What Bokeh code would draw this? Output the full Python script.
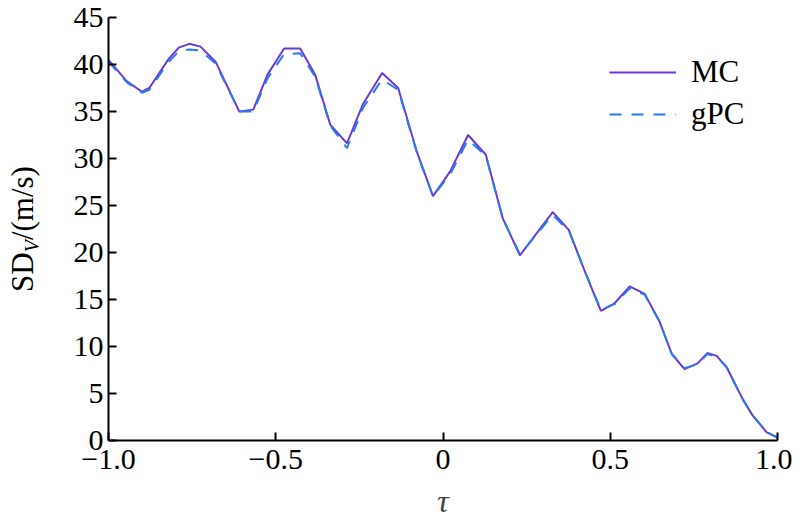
from bokeh.plotting import figure
from bokeh.models import Legend, LegendItem, FixedTicker, Range1d, Div
from bokeh.layouts import row
from bokeh.embed import file_html
from bokeh.resources import INLINE

tau = [-1.000, -0.945, -0.900, -0.878, -0.820, -0.790, -0.758, -0.725, -0.680,
       -0.609, -0.567, -0.525, -0.475, -0.427, -0.382, -0.337, -0.287, -0.239,
       -0.182, -0.134, -0.078, -0.030, 0.021, 0.075, 0.128, 0.179, 0.230,
       0.328, 0.376, 0.425, 0.472, 0.513, 0.558, 0.603, 0.648, 0.684, 0.722,
       0.761, 0.790, 0.818, 0.848, 0.896, 0.925, 0.967, 1.000]
mc = [40.5, 38.2, 37.1, 37.5, 40.6, 41.8, 42.2, 41.9, 40.3,
      35.0, 35.2, 38.9, 41.7, 41.7, 38.9, 33.6, 31.6, 35.8,
      39.1, 37.5, 30.7, 26.0, 28.6, 32.5, 30.4, 23.6, 19.7,
      24.3, 22.4, 17.9, 13.8, 14.6, 16.4, 15.6, 12.6, 9.2, 7.6,
      8.2, 9.3, 9.0, 7.8, 4.4, 2.7, 0.9, 0.3]
gpc = [40.3, 38.1, 37.0, 37.3, 40.3, 41.4, 41.6, 41.5, 40.1,
       35.0, 35.0, 38.5, 41.1, 41.2, 38.7, 33.5, 31.1, 35.4,
       38.4, 37.3, 30.6, 26.0, 28.3, 32.0, 30.3, 23.6, 19.8,
       24.0, 22.3, 17.9, 13.9, 14.5, 16.2, 15.5, 12.6, 9.2, 7.7,
       8.1, 9.2, 8.9, 7.8, 4.4, 2.7, 0.9, 0.3]

x_ticks = [-1.0, -0.5, 0.0, 0.5, 1.0]
x_tick_labels = ["\u22121.0", "\u22120.5", "0", "0.5", "1.0"]
y_ticks = [0, 5, 10, 15, 20, 25, 30, 35, 40, 45]
y_title_main, y_title_sub, y_title_unit = "SD", "V", "/(m/s)"

FONT = "Liberation Serif"
MC_COLOR = "#6a3ad8"
GPC_COLOR = "#2a7af2"
H = 521
LABEL_W = 60

# main plot
p = figure(width=792 - LABEL_W, height=H, output_backend="svg", toolbar_location=None,
           x_range=Range1d(-1, 1), y_range=Range1d(0, 45),
           min_border_left=108 - LABEL_W, min_border_right=15, min_border_top=17,
           min_border_bottom=80)
p.outline_line_color = None
p.grid.visible = False
p.background_fill_color = "white"

r_mc = p.line(tau, mc, line_color=MC_COLOR, line_width=2)
r_gpc = p.line(tau, gpc, line_color=GPC_COLOR, line_width=2, line_dash="12 10")

for ax in (p.xaxis[0], p.yaxis[0]):
    ax.major_tick_in = 8
    ax.major_tick_out = 0
    ax.minor_tick_in = 0
    ax.minor_tick_out = 0
    ax.axis_line_width = 2
    ax.axis_line_color = "black"
    ax.major_tick_line_width = 2
    ax.major_tick_line_color = "black"
    ax.major_label_text_font = FONT
    ax.major_label_text_font_size = "30px"
    ax.major_label_text_color = "black"

p.xaxis.ticker = FixedTicker(ticks=x_ticks)
p.xaxis.major_label_overrides = {t: l for t, l in zip(x_ticks, x_tick_labels)}
p.xaxis.major_label_standoff = 9
p.xaxis.axis_label = "\u03c4"
p.xaxis.axis_label_text_font = FONT
p.xaxis.axis_label_text_font_style = "italic"
p.xaxis.axis_label_text_font_size = "32px"
p.xaxis.axis_label_standoff = 11

p.yaxis.ticker = FixedTicker(ticks=y_ticks)
p.yaxis.major_label_standoff = 5

legend = Legend(items=[LegendItem(label="MC", renderers=[r_mc]),
                       LegendItem(label="gPC", renderers=[r_gpc])],
                location=(501, 305), border_line_color=None,
                background_fill_alpha=0, padding=0, margin=0, spacing=0,
                glyph_width=67, glyph_height=42, label_height=42,
                label_standoff=15, label_text_font=FONT,
                label_text_font_size="31px", label_text_color="black")
p.add_layout(legend)

# y-axis title (with italic subscript V) as rotated HTML text in a narrow strip
html = (
    f'<div style="position:relative;width:{LABEL_W}px;height:{H}px;">'
    '<div style="position:absolute;left:-47px;top:209px;width:140px;height:40px;'
    'line-height:40px;text-align:center;white-space:nowrap;'
    "font-family:'Liberation Serif';font-size:31px;color:black;"
    'transform:rotate(-90deg);transform-origin:50% 50%;">'
    f'{y_title_main}<span style="font-size:20px;font-style:italic;position:relative;top:6px;">'
    f'{y_title_sub}</span>{y_title_unit}</div></div>'
)
ylab = Div(text=html, width=LABEL_W, height=H, margin=0)

layout = row(ylab, p, spacing=0)
open("out.html", "w").write(file_html(layout, INLINE))
